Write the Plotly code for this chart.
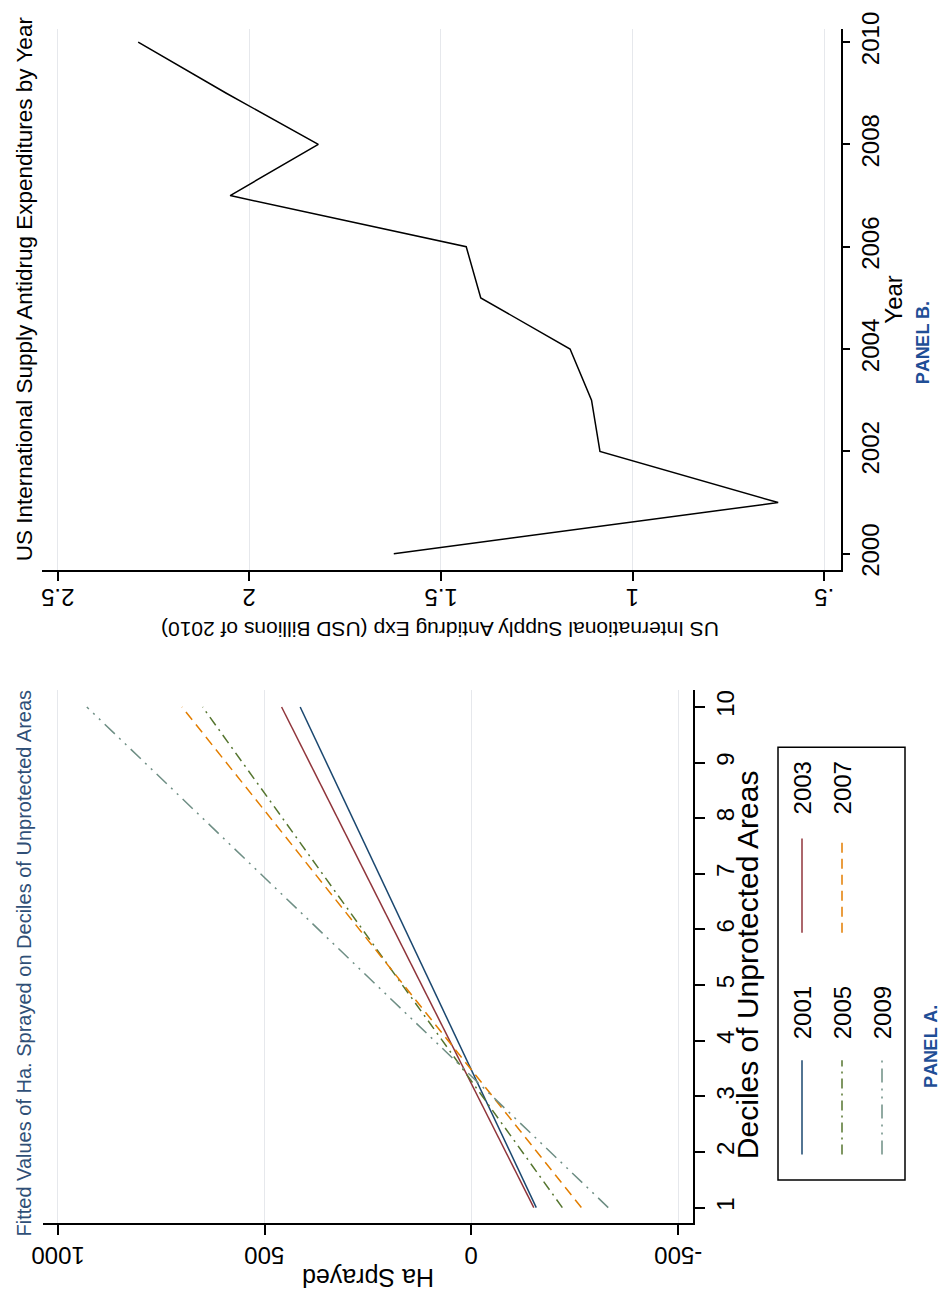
import plotly.graph_objects as go

# ---------------- data ----------------
deciles = [1, 10]
series_years = ["2001", "2003", "2005", "2007", "2009"]
fit_2001 = [-157, 414]
fit_2003 = [-151, 459]
fit_2005 = [-220, 650]
fit_2007 = [-266, 700]
fit_2009 = [-331, 930]

years_b = [2000, 2001, 2002, 2003, 2004, 2005, 2006, 2007, 2008, 2009, 2010]
spending_b = [1.623, 0.62, 1.085, 1.107, 1.163, 1.396, 1.434, 2.05, 1.82, 2.06, 2.29]

ha_ticks = [1000, 500, 0, -500]
ha_ticklabels = ["1000", "500", "0", "-500"]
decile_ticks = [1, 2, 3, 4, 5, 6, 7, 8, 9, 10]
exp_ticks = [2.5, 2, 1.5, 1, 0.5]
exp_ticklabels = ["2.5", "2", "1.5", "1", ".5"]
year_ticks = [2000, 2002, 2004, 2006, 2008, 2010]

# ---------------- styles ----------------
W, H = 943, 1298
FONT = "Liberation Sans, Arial, sans-serif"
colors = {"2001": "#1a476f", "2003": "#90353b", "2005": "#55752f",
          "2007": "#e37e00", "2009": "#6e8e84"}
dashes = {"2001": "solid", "2003": "solid", "2005": "10px,5px,2px,5px",
          "2007": "10px,6px", "2009": "14px,6px,2px,6px,2px,6px"}
fits = {"2001": fit_2001, "2003": fit_2003, "2005": fit_2005,
        "2007": fit_2007, "2009": fit_2009}


def px(X):
    return X / W


def py(Y):
    return 1 - Y / H


fig = go.Figure()
for yr in series_years:
    fig.add_trace(go.Scatter(x=fits[yr], y=deciles, mode="lines", xaxis="x", yaxis="y",
                             line=dict(color=colors[yr], width=1.5, dash=dashes[yr]),
                             showlegend=False, name=yr))

fig.add_trace(go.Scatter(x=spending_b, y=years_b, mode="lines", xaxis="x2", yaxis="y2",
                         line=dict(color="black", width=1.5), showlegend=False))


def axis_style(ticklen):
    return dict(showline=True, linecolor="black", linewidth=1.5, ticks="outside",
                ticklen=ticklen, tickwidth=1.5, tickcolor="black", zeroline=False,
                ticklabeloverflow="allow",
                tickfont=dict(family=FONT, size=24, color="black"))


fig.update_layout(
    width=W, height=H, margin=dict(l=0, r=0, t=0, b=0),
    paper_bgcolor="white", plot_bgcolor="white", showlegend=False,
    xaxis=dict(domain=[px(43), px(693)], range=[1036, -536], anchor="y", side="bottom",
               tickmode="array", tickvals=ha_ticks, showticklabels=False,
               showgrid=True, gridcolor="#e6e8ec", gridwidth=1, **axis_style(10)),
    yaxis=dict(domain=[py(1229), py(686)], range=[0.718, 10.3], anchor="x", side="right",
               tickmode="array", tickvals=decile_ticks, tickangle=-90, showgrid=False,
               **axis_style(10)),
    xaxis2=dict(domain=[px(42), px(841)], range=[2.541, 0.456], anchor="y2", side="bottom",
                tickmode="array", tickvals=exp_ticks, showticklabels=False,
                showgrid=True, gridcolor="#e6e8ec", gridwidth=1, **axis_style(10)),
    yaxis2=dict(domain=[py(563), py(12.5)], range=[1999.69, 2010.25], anchor="x2", side="right",
                tickmode="array", tickvals=year_ticks, tickangle=-90, showgrid=False,
                **axis_style(7)),
)

ann = []


def text(t, X, Y, angle, size=24, color="black", xa="center", ya="middle", family=FONT,
         xref="paper"):
    ann.append(dict(text=t, x=(X if xref != "paper" else px(X)), y=py(Y), xref=xref,
                    yref="paper", showarrow=False, textangle=angle, xanchor=xa, yanchor=ya,
                    borderpad=0, font=dict(family=family, size=size, color=color)))


# upside-down tick labels of the value axes, placed on the axes' own scales
for v, lab in zip(ha_ticks, ha_ticklabels):
    text(lab, v, 1262, 180, xref="x")
for v, lab in zip(exp_ticks, exp_ticklabels):
    text(lab, v, 592, 180, xref="x2")

# Panel A texts
text("Ha Sprayed", 368, 1284, 180, size=25)
text("Deciles of Unprotected Areas", 747, 966, -90, size=30)
text("Fitted Values of Ha. Sprayed on Deciles of Unprotected Areas", 24, 1244, -90,
     size=20, color="#2f4f77", ya="bottom")

# Panel B texts
text("US International Supply Antidrug Exp (USD Billions of 2010)", 440, 624, 180, size=21)
text("Year", 894, 288, -90)
text("US International Supply Antidrug Expenditures by Year", 24, 556, -90, size=22.5,
     ya="bottom")

# caption labels, set letter by letter (rotated, reading upward)
BOLD_W = {"P": .667, "A": .722, "N": .722, "E": .667, "L": .611, " ": .278, ".": .278,
          "B": .722}


def caption(t, X, Ybottom, size=18, color="#1f4e96"):
    pos = Ybottom
    for ch in t:
        adv = BOLD_W[ch] * size
        if ch != " ":
            ann.append(dict(text="<b>%s</b>" % ch, x=px(X), y=py(pos - adv / 2), xref="paper",
                            yref="paper", showarrow=False, textangle=-90, xanchor="center",
                            yanchor="middle", borderpad=0,
                            font=dict(family=FONT, size=size, color=color)))
        pos -= adv


caption("PANEL A.", 931, 1091)
caption("PANEL B.", 923, 374)

# Legend (rotated layout, drawn manually)
shapes = [dict(type="rect", xref="paper", yref="paper", x0=px(778), x1=px(905),
               y0=py(1185), y1=py(744), line=dict(color="black", width=1.5))]
legend_pos = {"2001": (802, 1063, 1159, 1015), "2003": (802, 837, 933, 786),
              "2005": (842, 1063, 1159, 1015), "2007": (842, 837, 933, 786),
              "2009": (882, 1063, 1159, 1015)}
for yr in series_years:
    X, y0, y1, ylab = legend_pos[yr]
    shapes.append(dict(type="line", xref="paper", yref="paper", x0=px(X), x1=px(X),
                       y0=py(y1), y1=py(y0),
                       line=dict(color=colors[yr], width=1.5, dash=dashes[yr])))
    text(yr, X, ylab, -90)

fig.update_layout(annotations=ann, shapes=shapes)
fig.write_html("out.html")
